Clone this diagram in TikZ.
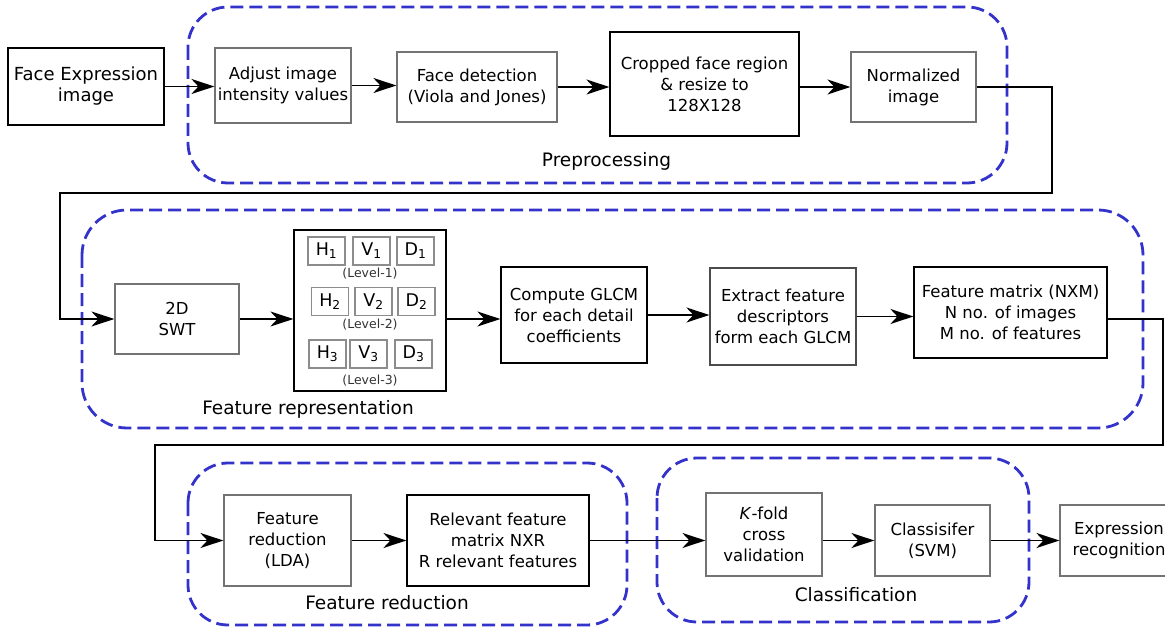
\documentclass[tikz,border=0pt]{standalone}
\usepackage{fontspec}
\setmainfont{DejaVu Sans}
\usetikzlibrary{arrows.meta}
\definecolor{grpblue}{RGB}{51,51,204}
\begin{document}
\begin{tikzpicture}[x=1pt,y=-1pt,
  box/.style={draw=black, line width=1.2pt, align=center, inner sep=0pt, font=\fontsize{16.5}{21}\selectfont},
  gbox/.style={box, draw=black!55},
  sub/.style={draw=black!45, line width=1.1pt, inner sep=0pt, minimum width=37pt, minimum height=28pt, font=\fontsize{17.5}{20}\selectfont},
  lvl/.style={font=\fontsize{12.5}{14}\selectfont, text=black!80, inner sep=0pt},
  grp/.style={draw=grpblue, line width=2.8pt, dash pattern=on 13pt off 6pt, rounded corners=40pt},
  glabel/.style={font=\fontsize{18.5}{22}\selectfont, inner sep=0pt},
  arr/.style={draw=black, line width=1.6pt, -{Stealth[length=23pt,width=15pt,inset=7pt]}},
]
\useasboundingbox (0,0) rectangle (1165,631);
\fill[white] (0,0) rectangle (1165,631);

% groups
\draw[grp] (188,7) rectangle (1007,183);
\draw[grp, rounded corners=45pt] (82,210) rectangle (1143,428);
\draw[grp] (188,463) rectangle (627,625);
\draw[grp] (657,458) rectangle (1029,622);

\node[glabel] (lpre) at (606.5,161) {Preprocessing};
\node[glabel] (lrep) at (308,409) {Feature representation};
\node[glabel] (lred) at (387,603) {Feature reduction};
\node[glabel] (lcls) at (856,595) {Classification};

% row 1
\node[box, minimum width=156pt, minimum height=77pt, font=\fontsize{18}{21}\selectfont] (face) at (86,86.5) {Face Expression\\image};
\node[gbox, minimum width=136pt, minimum height=75pt] (adj) at (283,85.5) {Adjust image\\intensity values};
\node[gbox, minimum width=160pt, minimum height=70pt] (det) at (477,87) {Face detection\\(Viola and Jones)};
\node[box, minimum width=189pt, minimum height=104pt] (crop) at (704.5,84) {Cropped face region\\\& resize to\\128X128};
\node[gbox, minimum width=125pt, minimum height=70pt] (norm) at (913.5,87) {Normalized\\image};

% row 2
\node[gbox, minimum width=124pt, minimum height=70pt] (swt) at (177,319) {2D\\SWT};
\node[box, minimum width=152pt, minimum height=161pt] (wav) at (370,310.5) {};
\node[sub] (h1) at (326.5,251) {H\textsubscript{1}};
\node[sub] (v1) at (371.5,251) {V\textsubscript{1}};
\node[sub] (d1) at (415.5,251) {D\textsubscript{1}};
\node[lvl] (l1) at (370,274) {(Level-1)};
\node[sub] (h2) at (330,301.5) {H\textsubscript{2}};
\node[sub] (v2) at (373.5,301.5) {V\textsubscript{2}};
\node[sub] (d2) at (416.5,301.5) {D\textsubscript{2}};
\node[lvl] (l2) at (370,325) {(Level-2)};
\node[sub] (h3) at (327.5,354) {H\textsubscript{3}};
\node[sub] (v3) at (368.5,354) {V\textsubscript{3}};
\node[sub] (d3) at (413.5,354) {D\textsubscript{3}};
\node[lvl] (l3) at (370,381) {(Level-3)};
\node[box, minimum width=146pt, minimum height=96pt] (glcm) at (574,315) {Compute GLCM\\for each detail\\coefficients};
\node[box, draw=black!70, minimum width=146pt, minimum height=97pt] (ext) at (783,316.5) {Extract feature\\descriptors\\form each GLCM};
\node[box, minimum width=193pt, minimum height=91pt] (fm) at (1010.5,312.5) {Feature matrix (NXM)\\N no. of images\\M no. of features};

% row 3
\node[gbox, minimum width=127pt, minimum height=91pt] (lda) at (287.5,540.5) {Feature\\reduction\\(LDA)};
\node[box, minimum width=182pt, minimum height=91pt] (rel) at (498,540.5) {Relevant feature\\matrix NXR\\R relevant features};
\node[gbox, minimum width=116pt, minimum height=83pt] (kf) at (764,534.5) {\textit{K}-fold\\cross\\validation};
\node[gbox, minimum width=115pt, minimum height=71pt] (cls) at (932.5,540.5) {Classisifer\\(SVM)};
\node[gbox, minimum width=118pt, minimum height=71pt] (expr) at (1119,540.5) {Expression\\recognition};

% connectors
\coordinate (c1) at (1052,193);
\coordinate (c2) at (60,193);
\coordinate (c3) at (1163,445);
\coordinate (c4) at (155,445);

\draw[arr] (face.east) -- (face.east -| adj.west);
\draw[arr] (adj.east) -- (adj.east -| det.west);
\draw[arr] (det.east) -- (det.east -| crop.west);
\draw[arr] (crop.east |- norm.east) -- (norm.west);
\draw[arr] (norm.east) -| (c1) -- (c2) |- (swt.west);
\draw[arr] (swt.east) -- (swt.east -| wav.west);
\draw[arr] (wav.east |- swt.east) -- (swt.east -| glcm.west);
\draw[arr] (glcm.east) -- (glcm.east -| ext.west);
\draw[arr] (ext.east) -- (ext.east -| fm.west);
\draw[arr] (fm.east |- swt.east) -| (c3) -- (c4) |- (lda.west);
\draw[arr] (lda.east) -- (lda.east -| rel.west);
\draw[arr] (rel.east) -- (rel.east -| kf.west);
\draw[arr] (kf.east |- cls.west) -- (cls.west);
\draw[arr] (cls.east) -- (cls.east -| expr.west);
\end{tikzpicture}
\end{document}
